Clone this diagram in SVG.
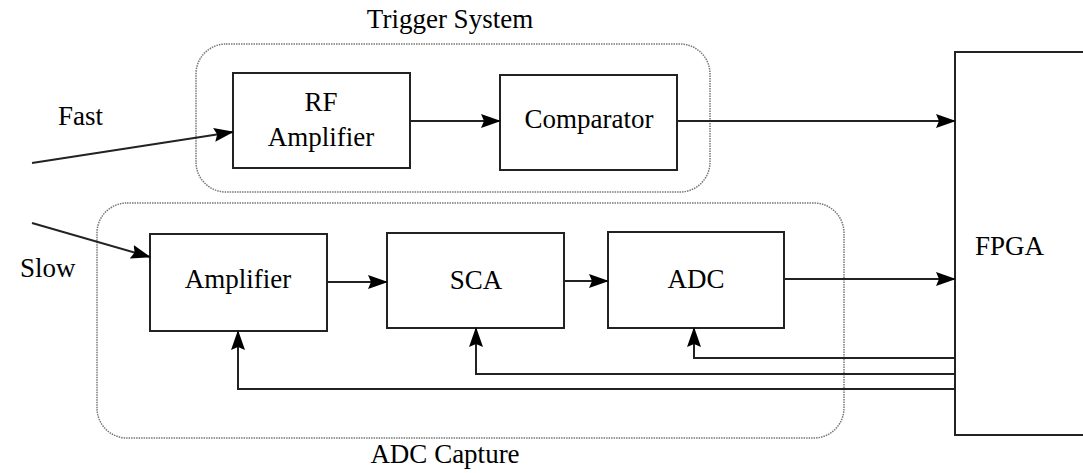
<svg xmlns="http://www.w3.org/2000/svg" width="1083" height="473" viewBox="0 0 1083 473">
<style>
.box{fill:#fff;stroke:#222;stroke-width:2}
.grp{fill:none;stroke:#777;stroke-width:1.5;stroke-dasharray:1.5 1}
.lbl{font-family:"Liberation Serif","Times New Roman",Times,serif;font-size:27px;fill:#000}
.c{text-anchor:middle}
.wire{fill:none;stroke:#222;stroke-width:2}
</style>
<defs>
<marker id="ah" viewBox="0 0 20 14" refX="19" refY="7" markerWidth="20" markerHeight="14" markerUnits="userSpaceOnUse" orient="auto">
<path d="M0,0 L20,7 L0,14 L3,7 Z" fill="#000"/>
</marker>
</defs>
<rect width="1083" height="473" fill="#fff"/>
<g id="trigger-system">
<rect class="grp" x="196" y="44" width="514" height="148" rx="30"/>
<text class="lbl c" x="450" y="28">Trigger System</text>
</g>
<g id="adc-capture">
<rect class="grp" x="97" y="203" width="747" height="235" rx="30"/>
<text class="lbl c" x="445" y="463">ADC Capture</text>
</g>
<g id="rf-amplifier">
<rect class="box" x="233" y="73" width="177" height="95"/>
<text class="lbl c" x="321" y="111">RF</text>
<text class="lbl c" x="321" y="146">Amplifier</text>
</g>
<g id="comparator">
<rect class="box" x="500" y="75" width="177" height="95"/>
<text class="lbl c" x="589" y="128">Comparator</text>
</g>
<g id="amplifier">
<rect class="box" x="150" y="234" width="177" height="97"/>
<text class="lbl c" x="238" y="288">Amplifier</text>
</g>
<g id="sca">
<rect class="box" x="387" y="233" width="177" height="95"/>
<text class="lbl c" x="476" y="289">SCA</text>
</g>
<g id="adc">
<rect class="box" x="608" y="232" width="176" height="96"/>
<text class="lbl c" x="696" y="288">ADC</text>
</g>
<g id="fpga">
<rect class="box" x="955" y="52" width="140" height="383"/>
<text class="lbl" x="975" y="255">FPGA</text>
</g>
<g id="inputs">
<text class="lbl" x="58" y="125">Fast</text>
<text class="lbl" x="20" y="277">Slow</text>
</g>
<g id="connectors">
<line class="wire" x1="32" y1="163" x2="233" y2="132" marker-end="url(#ah)"/>
<line class="wire" x1="32" y1="223" x2="150" y2="257" marker-end="url(#ah)"/>
<line class="wire" x1="410" y1="121" x2="500" y2="121" marker-end="url(#ah)"/>
<line class="wire" x1="677" y1="121" x2="955" y2="121" marker-end="url(#ah)"/>
<line class="wire" x1="327" y1="282" x2="387" y2="282" marker-end="url(#ah)"/>
<line class="wire" x1="564" y1="281" x2="608" y2="281" marker-end="url(#ah)"/>
<line class="wire" x1="784" y1="279" x2="955" y2="279" marker-end="url(#ah)"/>
<polyline class="wire" points="955,358 694,358 694,328" marker-end="url(#ah)"/>
<polyline class="wire" points="955,374 476,374 476,328" marker-end="url(#ah)"/>
<polyline class="wire" points="955,389 238,389 238,331" marker-end="url(#ah)"/>
</g>
</svg>
